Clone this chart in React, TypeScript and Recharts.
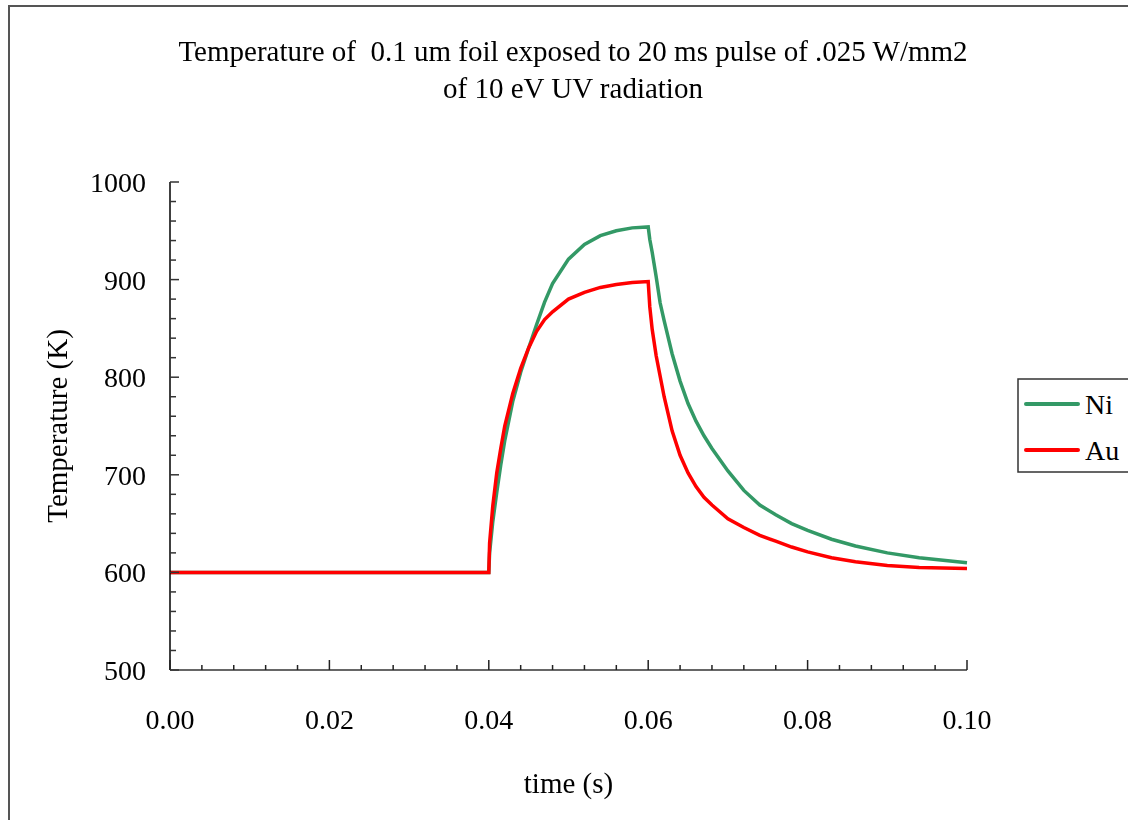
import { LineChart, Line, XAxis, YAxis } from "recharts";

const timeS = [
  0, 0.04, 0.0401, 0.0405, 0.041, 0.0415, 0.042, 0.043, 0.044, 0.045, 0.046,
  0.047, 0.048, 0.05, 0.052, 0.054, 0.056, 0.058, 0.06, 0.0602, 0.0605, 0.061,
  0.0615, 0.062, 0.063, 0.064, 0.065, 0.066, 0.067, 0.068, 0.07, 0.072, 0.074,
  0.076, 0.078, 0.08, 0.083, 0.086, 0.09, 0.094, 0.1,
];

const tempNi = [
  600, 600, 620, 652, 682, 710, 735, 775, 805, 830, 854, 877, 896, 921, 936,
  945, 950, 953, 954, 941, 928, 903, 876, 858, 824, 796, 773, 755, 740, 727,
  704, 684, 669, 659, 650, 643, 634, 627, 620, 615, 610,
];

const tempAu = [
  600, 600, 630, 668, 702, 727, 750, 783, 809, 830, 847, 859, 867, 880, 887,
  892, 895, 897, 898, 872, 849, 822, 801, 780, 745, 720, 702, 688, 677, 669,
  655, 646, 638, 632, 626, 621, 615, 611, 607, 605, 604,
];

const xMajorTicks = [0, 0.02, 0.04, 0.06, 0.08, 0.1];
const xMinorTicks = [
  0.004, 0.008, 0.012, 0.016, 0.024, 0.028, 0.032, 0.036, 0.044, 0.048, 0.052,
  0.056, 0.064, 0.068, 0.072, 0.076, 0.084, 0.088, 0.092, 0.096,
];
const yMajorTicks = [500, 600, 700, 800, 900, 1000];
const yMinorTicks = [
  520, 540, 560, 580, 620, 640, 660, 680, 720, 740, 760, 780, 820, 840, 860,
  880, 920, 940, 960, 980,
];

const series = [
  { key: "ni", name: "Ni", color: "#339966" },
  { key: "au", name: "Au", color: "#ff0000" },
];

const data = timeS.map((t, i) => ({ t, ni: tempNi[i], au: tempAu[i] }));

const FONT = "'Times New Roman', 'Liberation Serif', serif";

const YTick = (props: any) => {
  const { x, y, payload } = props;
  const major = yMajorTicks.includes(payload.value);
  return (
    <g>
      <line x1={x} y1={y} x2={x + (major ? 9 : 6)} y2={y} stroke="#333" strokeWidth={1.5} />
      {major && (
        <text x={x - 24} y={y + 10} textAnchor="end" fontSize={28} fontFamily={FONT} fill="#000">
          {payload.value}
        </text>
      )}
    </g>
  );
};

const XTick = (props: any) => {
  const { x, y, payload } = props;
  const major = xMajorTicks.includes(payload.value);
  return (
    <g>
      <line x1={x} y1={y} x2={x} y2={y - (major ? 10 : 5)} stroke="#222" strokeWidth={1.5} />
      {major && (
        <text x={x} y={y + 59} textAnchor="middle" fontSize={28} fontFamily={FONT} fill="#000">
          {payload.value.toFixed(2)}
        </text>
      )}
    </g>
  );
};

export default function App() {
  return (
    <div style={{ position: "relative", width: 1112, height: 804 }}>
      <div
        style={{
          position: "fixed",
          left: 8,
          top: 5,
          width: 1200,
          height: 900,
          borderTop: "2px solid #555",
          borderLeft: "2px solid #555",
          pointerEvents: "none",
        }}
      />
      <svg
        width={1112}
        height={120}
        style={{ position: "absolute", left: 0, top: 0 }}
      >
        <text x={565} y={53} textAnchor="middle" fontSize={29} fontFamily={FONT} fill="#000" style={{ whiteSpace: "pre" }}>
          {"Temperature of  0.1 um foil exposed to 20 ms pulse of .025 W/mm2"}
        </text>
        <text x={565} y={90} textAnchor="middle" fontSize={29} fontFamily={FONT} fill="#000">
          of 10 eV UV radiation
        </text>
      </svg>
      <div style={{ position: "absolute", left: 0, top: 0 }}>
        <LineChart
          width={1112}
          height={804}
          data={data}
          margin={{ top: 174, right: 153, bottom: 0, left: 0 }}
        >
          <XAxis
            dataKey="t"
            type="number"
            domain={[0, 0.1]}
            ticks={[...xMajorTicks, ...xMinorTicks].sort((a, b) => a - b)}
            interval={0}
            height={142}
            tickSize={0}
            tickMargin={0}
            tickLine={false}
            tick={<XTick />}
            axisLine={{ stroke: "#666", strokeWidth: 2 }}
            label={{
              value: "time (s)",
              position: "insideBottom",
              offset: 19,
              style: { fontSize: 29, fontFamily: FONT, fill: "#000" },
            }}
          />
          <YAxis
            type="number"
            domain={[500, 1000]}
            ticks={[...yMajorTicks, ...yMinorTicks].sort((a, b) => a - b)}
            interval={0}
            width={162}
            tickSize={0}
            tickMargin={0}
            tickLine={false}
            tick={<YTick />}
            axisLine={{ stroke: "#000", strokeWidth: 1.5 }}
            label={{
              value: "Temperature (K)",
              angle: -90,
              position: "insideLeft",
              offset: 49,
              style: { fontSize: 29, fontFamily: FONT, fill: "#000", textAnchor: "middle" },
            }}
          />
          {series.map((s) => (
            <Line
              key={s.key}
              type="linear"
              dataKey={s.key}
              name={s.name}
              stroke={s.color}
              strokeWidth={3.5}
              dot={false}
              isAnimationActive={false}
            />
          ))}
        </LineChart>
      </div>
      <svg
        width={200}
        height={96}
        style={{ position: "fixed", left: 1017, top: 378 }}
      >
        <rect x={1} y={1} width={300} height={93} fill="#fff" stroke="#333" strokeWidth={1.5} />
        {series.map((s, i) => (
          <g key={s.key}>
            <line
              x1={9}
              x2={61}
              y1={26 + i * 46}
              y2={26 + i * 46}
              stroke={s.color}
              strokeWidth={4}
              strokeLinecap="round"
            />
            <text x={68} y={36 + i * 46} fontSize={28} fontFamily={FONT} fill="#000">
              {s.name}
            </text>
          </g>
        ))}
      </svg>
    </div>
  );
}
